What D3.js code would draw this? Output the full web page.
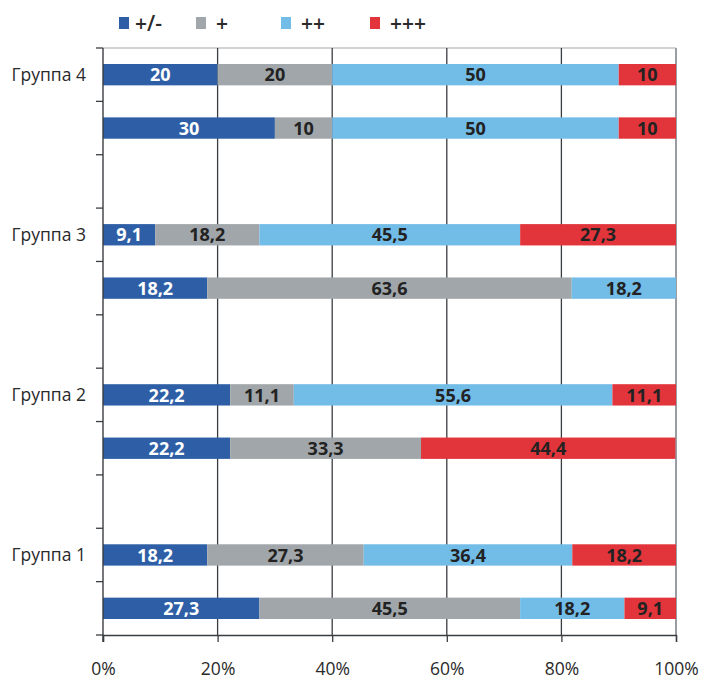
<!DOCTYPE html>
<html>
<head>
<meta charset="utf-8">
<script src="https://cdn.jsdelivr.net/npm/d3@7"></script>
<style>
	body { margin: 0; background: #fff; }
	svg { display: block; font-family: "Open Sans", sans-serif; }
</style>
</head>
<body>
<script>
// categories: bar rows, top to bottom (spacer slots between groups)
let slots = ["4a", "4b", "s3", "3a", "3b", "s2", "2a", "2b", "s1", "1a", "1b"];
let barRows = ["4a", "4b", "3a", "3b", "2a", "2b", "1a", "1b"];
let groupLabels = ["Группа 4", "Группа 3", "Группа 2", "Группа 1"];
let groupRows = ["4a", "3a", "2a", "1a"];

// series
let seriesNames = ["+/-", "+", "++", "+++"];
let valPM = [20, 30, 9.1, 18.2, 22.2, 22.2, 18.2, 27.3];
let valP = [20, 10, 18.2, 63.6, 11.1, 33.3, 27.3, 45.5];
let valPP = [50, 50, 45.5, 18.2, 55.6, 0, 36.4, 18.2];
let valPPP = [10, 10, 27.3, 0, 11.1, 44.4, 18.2, 9.1];

let xTicks = [0, 20, 40, 60, 80, 100];

let colors = ["#2e5fa6", "#a0a6a9", "#72bce8", "#e2353b"];
let textColors = ["#ffffff", "#222222", "#222222", "#222222"];

let width = 701,
	height = 680;
let margin = {top: 48, right: 25, bottom: 45, left: 103};

// build rows for the stack
let rows = barRows.map(function(r, i) {
	return {row: r, "+/-": valPM[i], "+": valP[i], "++": valPP[i], "+++": valPPP[i]};
});
let stacked = d3.stack().keys(seriesNames)(rows);

let svg = d3.select("body").append("svg")
	.attr("width", width)
	.attr("height", height);

let x = d3.scaleLinear()
	.domain([0, 100])
	.range([margin.left, width - margin.right])
	.clamp(true);

let y = d3.scaleBand()
	.domain(slots)
	.range([margin.top, height - margin.bottom])
	.paddingInner(0.6)
	.paddingOuter(0.3);

let step = y.step();
let plotTop = margin.top,
	plotBottom = height - margin.bottom;

// light border on top and right
svg.append("line")
	.attr("x1", x(0)).attr("x2", x(100))
	.attr("y1", plotTop).attr("y2", plotTop)
	.attr("stroke", "#a3a6a9").attr("stroke-width", 1.2);
svg.append("line")
	.attr("x1", x(100)).attr("x2", x(100))
	.attr("y1", plotTop).attr("y2", plotBottom)
	.attr("stroke", "#9a9ea2").attr("stroke-width", 2);

// vertical gridlines
svg.append("g")
	.selectAll("line")
	.data(xTicks.filter(function(d) { return d > 0 && d < 100; }))
	.enter()
	.append("line")
	.attr("x1", function(d) { return x(d); })
	.attr("x2", function(d) { return x(d); })
	.attr("y1", plotTop)
	.attr("y2", plotBottom)
	.attr("stroke", "#3a3d40")
	.attr("stroke-width", 1.3);

// stacked bars
let layers = svg.append("g")
	.selectAll("g")
	.data(stacked)
	.enter()
	.append("g")
	.attr("fill", function(d, i) { return colors[i]; });

layers.selectAll("rect")
	.data(function(d) { return d; })
	.enter()
	.filter(function(d) { return d[1] - d[0] > 0; })
	.append("rect")
	.attr("x", function(d) { return x(d[0]); })
	.attr("width", function(d) { return x(d[1]) - x(d[0]); })
	.attr("y", function(d) { return y(d.data.row); })
	.attr("height", y.bandwidth());

// value labels
layers.each(function(layer, i) {
	d3.select(this).selectAll("text")
		.data(layer.filter(function(d) { return d[1] - d[0] > 0; }))
		.enter()
		.append("text")
		.attr("x", function(d) { return (x(d[0]) + x(d[1])) / 2; })
		.attr("y", function(d) { return y(d.data.row) + y.bandwidth() / 2; })
		.attr("dy", "0.37em")
		.attr("text-anchor", "middle")
		.attr("font-size", 18)
		.attr("font-weight", 700)
		.attr("fill", textColors[i])
		.text(function(d) { return String(d.data[layer.key]).replace(".", ","); });
});

// y axis: line and ticks between categories
svg.append("line")
	.attr("x1", x(0)).attr("x2", x(0))
	.attr("y1", plotTop).attr("y2", plotBottom + 7)
	.attr("stroke", "#3a3d40").attr("stroke-width", 1.4);

let boundaries = d3.range(slots.length + 1).map(function(k) { return plotTop + k * step; });
svg.append("g")
	.selectAll("line")
	.data(boundaries)
	.enter()
	.append("line")
	.attr("x1", x(0) - 7)
	.attr("x2", x(0))
	.attr("y1", function(d) { return d; })
	.attr("y2", function(d) { return d; })
	.attr("stroke", "#3a3d40")
	.attr("stroke-width", 1.3);

// group labels
svg.append("g")
	.selectAll("text")
	.data(groupLabels)
	.enter()
	.append("text")
	.attr("x", x(0) - 17)
	.attr("y", function(d, i) { return y(groupRows[i]) + y.bandwidth() / 2; })
	.attr("dy", "0.36em")
	.attr("text-anchor", "end")
	.attr("font-size", 17.5)
	.attr("fill", "#2a2a2a")
	.text(function(d) { return d; });

// x axis
let xAxis = d3.axisBottom(x)
	.tickValues(xTicks)
	.tickSize(7)
	.tickPadding(21)
	.tickFormat(function(d) { return d + "%"; });

let gx = svg.append("g")
	.attr("transform", "translate(0," + plotBottom + ")")
	.call(xAxis);
gx.select(".domain").attr("stroke", "#3a3d40").attr("stroke-width", 1.4);
gx.selectAll(".tick line").attr("stroke", "#3a3d40").attr("stroke-width", 1.3);
gx.selectAll(".tick text")
	.attr("font-size", 17.5)
	.attr("font-family", "Open Sans, sans-serif")
	.attr("fill", "#2a2a2a");

// legend
let legendX = [119, 196, 281, 370];
let legend = svg.append("g")
	.selectAll("g")
	.data(seriesNames)
	.enter()
	.append("g")
	.attr("transform", function(d, i) { return "translate(" + legendX[i] + ",17)"; });

legend.append("rect")
	.attr("width", 10)
	.attr("height", 12)
	.attr("fill", function(d, i) { return colors[i]; });

legend.append("text")
	.attr("x", function(d, i) { return i === 0 ? 16 : 20; })
	.attr("y", 6)
	.attr("dy", "0.36em")
	.attr("font-size", 21)
	.attr("font-weight", 600)
	.attr("fill", "#2a2a2a")
	.text(function(d) { return d; });
</script>
</body>
</html>
